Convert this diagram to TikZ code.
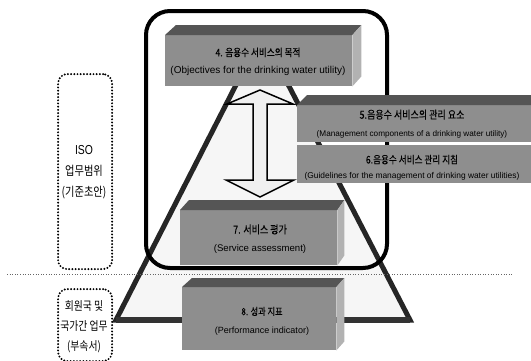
\documentclass[tikz,border=0pt]{standalone}
\usepackage{fontspec}
\setmainfont{Liberation Sans}
\newfontfamily\kr[FakeStretch=0.82,FakeBold=0.12]{Noto Sans CJK KR}
\newfontfamily\krl[FakeStretch=0.82]{Noto Sans CJK KR}
\newfontfamily\isof[FakeStretch=0.8]{Liberation Sans}
\usetikzlibrary{calc}
\definecolor{facegray}{HTML}{8E8E8E}
\definecolor{topgray}{HTML}{555555}
\definecolor{sidegray}{HTML}{B2B2B2}
\definecolor{trifill}{HTML}{F6F6F6}
\begin{document}
\begin{tikzpicture}[x=1pt,y=-1pt,
  face/.style={fill=facegray, draw=none, inner sep=0pt, anchor=north west},
  facetext/.style={align=center, inner sep=0pt},
  topface/.style={fill=topgray},
  sideface/.style={fill=sidegray},
  dotbox/.style={draw=black, line width=2.2pt, dash pattern=on 0pt off 3.2pt, line cap=round, rounded corners=9pt, minimum width=54pt, inner sep=0pt, anchor=north west},
  sidetext/.style={align=center, font=\krl\fontsize{12.5}{21}\selectfont},
  tri/.style={draw=black!85, line width=5pt, line join=miter, fill=trifill},
  sep/.style={draw=black!60, line width=1pt, dash pattern=on 1pt off 1.6pt},
  frame/.style={draw=black, line width=4pt, rounded corners=24pt, inner sep=0pt, anchor=north west},
  blockarrow/.style={draw=black, line width=1.5pt, fill=gray!12, line join=miter}
]
\useasboundingbox (0,0) rectangle (531,360);
\clip (0,0) rectangle (531,360);

% triangle (pyramid)
\coordinate (apex) at (262,34);
\coordinate (br) at (410,320);
\coordinate (bl) at (116,320);
\draw[tri] (apex) -- (br) -- (bl) -- cycle;
\draw[draw=black!80, line width=6pt] (bl) -- (br);

% separator line
\coordinate (hl) at (7,274);
\coordinate (hr) at (512,274);
\draw[sep] (hl) -- (hr);

% box 7
\node[face, minimum width=157pt, minimum height=55pt] (b7) at (180,210) {};
\fill[topface] (b7.north west) -- ++(9,-10) -- ($(b7.north east)+(7,-10)$) -- (b7.north east) -- cycle;
\fill[sideface] (b7.north east) -- ++(7,-10) -- ($(b7.south east)+(7,-10)$) -- (b7.south east) -- cycle;
\node[facetext, font=\fontsize{9.6}{18}\selectfont] (t7) at (260,239)
  {{\kr\fontsize{11}{18}\selectfont 7. 서비스 평가}\\(Service assessment)};

% ISO frame
\node[frame, minimum width=241pt, minimum height=257pt] (isoframe) at (144,9) {};

% double block arrow
\coordinate (atop) at (260,90);
\coordinate (abot) at (260,197);
\draw[blockarrow] (atop) -- ++(33,14) -- ++(-26,0) -- ++(0,76) -- ++(27,0) -- (abot)
  -- ++(-34,-17) -- ++(27,0) -- ++(0,-76) -- ++(-26,0) -- cycle;

% box 4
\node[face, minimum width=187pt, minimum height=51pt] (b4) at (165,35) {};
\fill[topface] (b4.north west) -- ++(11,-10) -- ($(b4.north east)+(9,-10)$) -- (b4.north east) -- cycle;
\fill[sideface] (b4.north east) -- ++(9,-10) -- ($(b4.south east)+(9,-10)$) -- (b4.south east) -- cycle;
\node[facetext, font=\fontsize{10}{17}\selectfont] (t4) at (258,61.5)
  {{\kr\fontsize{10.5}{17}\selectfont 4. 음용수 서비스의 목적}\\(Objectives for the drinking water utility)};

% box 5
\node[face, minimum width=240pt, minimum height=37pt] (b5) at (297,105) {};
\fill[topface] (b5.north west) -- ++(10,-10) -- ($(b5.north east)+(10,-10)$) -- (b5.north east) -- cycle;
\node[facetext, font=\fontsize{8.2}{18}\selectfont] (t5) at (412,124)
  {{\kr\fontsize{11}{18}\selectfont 5.음용수 서비스의 관리 요소}\\(Management components of a drinking water utility)};

% box 6
\node[face, minimum width=240pt, minimum height=38pt] (b6) at (297,145) {};
\node[facetext, font=\fontsize{8.4}{15}\selectfont] (t6) at (412,167.5)
  {{\kr\fontsize{10.5}{15}\selectfont 6.음용수 서비스 관리 지침}\\(Guidelines for the management of drinking water utilities)};

% box 8
\node[face, minimum width=154pt, minimum height=63pt] (b8) at (182,287) {};
\fill[topface] (b8.north west) -- ++(10,-9) -- ($(b8.north east)+(8,-9)$) -- (b8.north east) -- cycle;
\fill[sideface] (b8.north east) -- ++(8,-9) -- ($(b8.south east)+(8,-9)$) -- (b8.south east) -- cycle;
\node[facetext, font=\fontsize{9}{18}\selectfont] (t8) at (262,321)
  {{\kr\fontsize{10}{18}\selectfont 8. 성과 지표}\\(Performance indicator)};

% left dotted boxes
\node[dotbox, minimum height=195pt] (isobox) at (57,73) {};
\node[sidetext] (isotext) at (84,172) {{\isof\fontsize{13}{21}\selectfont ISO}\\업무범위\\(기준초안)};
\node[dotbox, minimum height=72pt] (natbox) at (57,288) {};
\node[sidetext, font=\krl\fontsize{12}{20}\selectfont] (nattext) at (84,327) {회원국 및\\국가간 업무\\(부속서)};
\end{tikzpicture}
\end{document}
